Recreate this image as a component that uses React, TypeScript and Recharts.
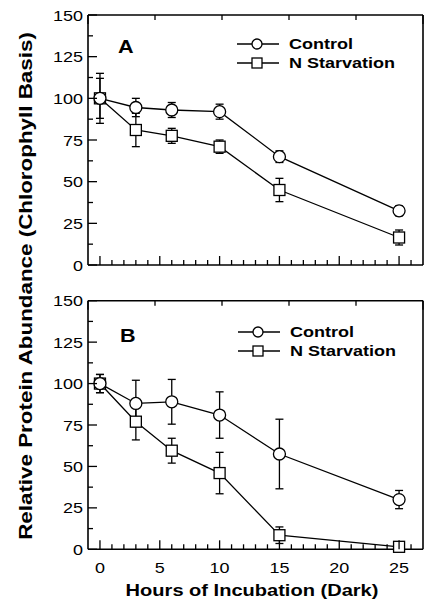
import React from "react";
import { LineChart, Line, XAxis, YAxis, ErrorBar } from "recharts";

// hours of incubation in the dark
const hours = [0, 3, 6, 10, 15, 25];

// panel A
const controlA = [100, 94.5, 93, 92, 65, 32.5];
const controlAErr = [15, 5.5, 4.5, 4.5, 3.5, 3];
const starvA = [100, 81, 77.5, 71, 45, 16.5];
const starvAErr = [12, 10, 4.5, 4, 7, 4.5];

// panel B
const controlB = [100, 88, 89, 81, 57.5, 30];
const controlBErr = [5.5, 14, 13.5, 14, 21, 5.5];
const starvB = [100, 77, 59.5, 46, 8.5, 1.5];
const starvBErr = [5.5, 11, 7.5, 12.5, 5, 1];

const seriesNames = ["Control", "N Starvation"];
const xLabels = [0, 5, 10, 15, 20, 25];
const yLabels = [0, 25, 50, 75, 100, 125, 150];
const xTicks = Array.from({ length: 27 }, (_, i) => i);
const yTicks = Array.from({ length: 13 }, (_, i) => i * 12.5);

const FONT = "'Liberation Sans', Arial, Helvetica, sans-serif";
const STRETCH = 1.2;

const buildRows = (c: number[], ce: number[], s: number[], se: number[]) =>
  hours.map((h, i) => ({ h, c: c[i], ce: ce[i], s: s[i], se: se[i] }));

const circleDot = (props: any) => (
  <circle
    key={`c-${props.index}`}
    cx={props.cx}
    cy={props.cy}
    r={6}
    fill="#fff"
    stroke="#000"
    strokeWidth={1.3}
  />
);

const squareDot = (props: any) => (
  <rect
    key={`s-${props.index}`}
    x={props.cx - 5.5}
    y={props.cy - 5.5}
    width={11}
    height={11}
    fill="#fff"
    stroke="#000"
    strokeWidth={1.3}
  />
);

const bottomTick = (showLabels: boolean) => (props: any) => {
  const { x, y, payload } = props;
  const major = payload.value % 5 === 0;
  return (
    <g>
      <line x1={x} x2={x} y1={y} y2={y - (major ? 9 : 5)} stroke="#000" strokeWidth={1.3} />
      {showLabels && xLabels.includes(payload.value) && (
        <text
          transform={`translate(${x},${y + 24}) scale(${STRETCH},1)`}
          textAnchor="middle"
          fontFamily={FONT}
          fontSize={15}
          fill="#000"
        >
          {payload.value}
        </text>
      )}
    </g>
  );
};

const topTick = (props: any) => {
  const { x, y, payload } = props;
  const major = payload.value % 5 === 0;
  return <line x1={x} x2={x} y1={y} y2={y + (major ? 9 : 5)} stroke="#000" strokeWidth={1.3} />;
};

const leftTick = (props: any) => {
  const { x, y, payload } = props;
  const major = yLabels.includes(payload.value);
  return (
    <g>
      <line x1={x} x2={x + (major ? 9 : 5)} y1={y} y2={y} stroke="#000" strokeWidth={1.3} />
      {major && (
        <text
          transform={`translate(${x - 5},${y + 5.5}) scale(${STRETCH},1)`}
          textAnchor="end"
          fontFamily={FONT}
          fontSize={15}
          fill="#000"
        >
          {payload.value}
        </text>
      )}
    </g>
  );
};

const rightTick = (props: any) => {
  const { x, y, payload } = props;
  const major = yLabels.includes(payload.value);
  return <line x1={x} x2={x - (major ? 9 : 5)} y1={y} y2={y} stroke="#000" strokeWidth={1.3} />;
};

const LegendBox = ({ left, top }: { left: number; top: number }) => (
  <div
    style={{
      position: "absolute",
      left,
      top,
      fontFamily: FONT,
      fontWeight: "bold",
      fontSize: 15,
      lineHeight: "19px",
    }}
  >
    {seriesNames.map((name, i) => (
      <div key={name} style={{ display: "flex", alignItems: "center", height: 19 }}>
        <svg width={42} height={14} style={{ marginRight: 10 }}>
          <line x1={0} x2={42} y1={7} y2={7} stroke="#000" strokeWidth={1.3} />
          {i === 0 ? (
            <circle cx={20} cy={7} r={5} fill="#fff" stroke="#000" strokeWidth={1.3} />
          ) : (
            <rect x={15} y={2} width={10} height={10} fill="#fff" stroke="#000" strokeWidth={1.3} />
          )}
        </svg>
        <span style={{ display: "inline-block", transform: `scaleX(${STRETCH})`, transformOrigin: "left" }}>
          {name}
        </span>
      </div>
    ))}
  </div>
);

const axisLine = { stroke: "#000", strokeWidth: 1.6 };

function Panel({
  rows,
  height,
  margin,
  showXLabels,
}: {
  rows: any[];
  height: number;
  margin: { top: number; right: number; bottom: number; left: number };
  showXLabels: boolean;
}) {
  return (
    <LineChart width={424} height={height} data={rows} margin={margin}>
      <XAxis
        dataKey="h"
        type="number"
        domain={[-1, 27]}
        ticks={xTicks}
        interval={0}
        height={1}
        tickSize={0}
        tickMargin={0}
        tickLine={false}
        axisLine={axisLine}
        tick={bottomTick(showXLabels)}
      />
      <XAxis
        xAxisId="top"
        orientation="top"
        type="number"
        domain={[-1, 27]}
        ticks={xTicks}
        interval={0}
        height={1}
        tickSize={0}
        tickMargin={0}
        tickLine={false}
        axisLine={axisLine}
        tick={topTick}
      />
      <YAxis
        type="number"
        domain={[0, 150]}
        ticks={yTicks}
        interval={0}
        width={1}
        tickSize={0}
        tickMargin={0}
        tickLine={false}
        axisLine={axisLine}
        tick={leftTick}
      />
      <YAxis
        yAxisId="right"
        orientation="right"
        type="number"
        domain={[0, 150]}
        ticks={yTicks}
        interval={0}
        width={1}
        tickSize={0}
        tickMargin={0}
        tickLine={false}
        axisLine={axisLine}
        tick={rightTick}
      />
      <Line
        dataKey="s"
        name={seriesNames[1]}
        type="linear"
        stroke="#000"
        strokeWidth={1.3}
        dot={squareDot}
        isAnimationActive={false}
      >
        <ErrorBar dataKey="se" direction="y" width={4} stroke="#000" strokeWidth={1.3} />
      </Line>
      <Line
        dataKey="c"
        name={seriesNames[0]}
        type="linear"
        stroke="#000"
        strokeWidth={1.3}
        dot={circleDot}
        isAnimationActive={false}
      >
        <ErrorBar dataKey="ce" direction="y" width={4} stroke="#000" strokeWidth={1.3} />
      </Line>
    </LineChart>
  );
}

export default function App() {
  const rowsA = buildRows(controlA, controlAErr, starvA, starvAErr);
  const rowsB = buildRows(controlB, controlBErr, starvB, starvBErr);
  return (
    <div style={{ position: "absolute", left: 0, top: 0, width: 424, height: 607, background: "#fff" }}>
      <div style={{ position: "absolute", left: 0, top: 0 }}>
        <Panel
          rows={rowsA}
          height={280}
          margin={{ top: 14, right: 0, bottom: 14, left: 87 }}
          showXLabels={false}
        />
      </div>
      <div style={{ position: "absolute", left: 0, top: 280 }}>
        <Panel
          rows={rowsB}
          height={327}
          margin={{ top: 19.7, right: 0, bottom: 56.7, left: 87 }}
          showXLabels={true}
        />
      </div>
      <LegendBox left={237} top={34} />
      <LegendBox left={238} top={322} />
      <svg
        width={424}
        height={607}
        style={{ position: "absolute", left: 0, top: 0, pointerEvents: "none" }}
      >
        <text
          transform={`translate(118,53) scale(${STRETCH},1)`}
          fontFamily={FONT}
          fontWeight="bold"
          fontSize={18}
        >
          A
        </text>
        <text
          transform={`translate(120,342) scale(${STRETCH},1)`}
          fontFamily={FONT}
          fontWeight="bold"
          fontSize={18}
        >
          B
        </text>
        <text
          transform={`translate(252,596) scale(1.18,1)`}
          textAnchor="middle"
          fontFamily={FONT}
          fontWeight="bold"
          fontSize={17}
        >
          Hours of Incubation (Dark)
        </text>
        <text
          transform={`translate(32,286) rotate(-90) scale(1.28,1)`}
          textAnchor="middle"
          fontFamily={FONT}
          fontWeight="bold"
          fontSize={17.5}
        >
          Relative Protein Abundance (Chlorophyll Basis)
        </text>
      </svg>
    </div>
  );
}
